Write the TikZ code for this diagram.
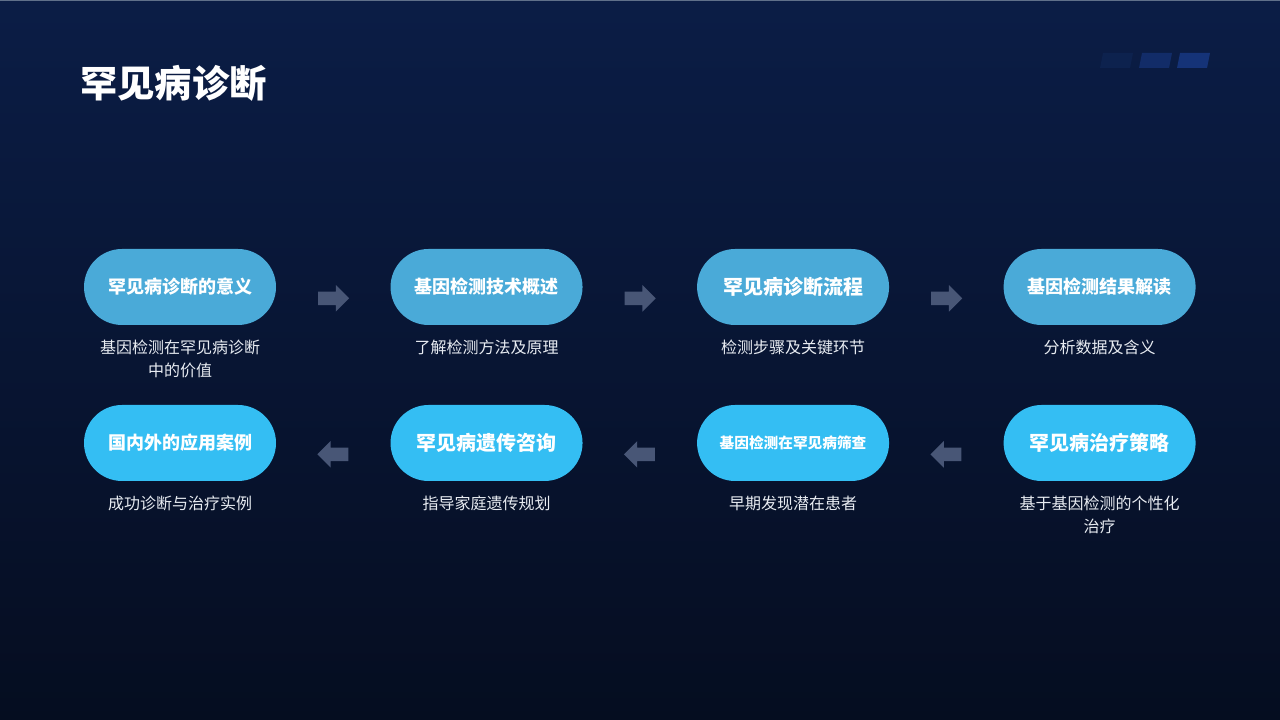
\documentclass[tikz,border=0pt]{standalone}
\usepackage{fontspec}
\setmainfont{Noto Sans CJK SC}
\usepackage{tikz}
\usetikzlibrary{calc}
\usetikzlibrary{positioning}
\usetikzlibrary{shapes.arrows}
\definecolor{bgtop}{RGB}{11,29,70}
\definecolor{bgbottom}{RGB}{5,13,32}
\definecolor{pillone}{RGB}{74,170,216}
\definecolor{pilltwo}{RGB}{52,190,243}
\definecolor{arrowgrey}{RGB}{72,86,118}
\definecolor{desctext}{RGB}{232,236,242}
\definecolor{topline}{RGB}{96,112,138}
\definecolor{tagdim}{RGB}{13,34,78}
\definecolor{tagmid}{RGB}{18,44,104}
\definecolor{tagbright}{RGB}{21,51,120}
\begin{document}
\begin{tikzpicture}[
    title node/.style={text=white, font=\fontsize{28}{30}\selectfont\bfseries, inner sep=0pt},
    pill node/.style={rounded corners=28.5pt, minimum width=144pt, minimum height=57pt,
        inner sep=0pt, text=white},
    top pill/.style={pill node, fill=pillone},
    bottom pill/.style={pill node, fill=pilltwo},
    desc node/.style={text=desctext, font=\fontsize{12}{17.25}\selectfont, align=center,
        inner sep=0pt},
    flow arrow/.style={single arrow, fill=arrowgrey, minimum height=23.25pt,
        single arrow head extend=4.9pt, single arrow tip angle=90, inner sep=0pt, xshift=-2.25pt},
    back arrow/.style={flow arrow, shape border rotate=180, xshift=4.5pt},
    node distance=85.5pt]
    \useasboundingbox (0,0) rectangle (960pt,540pt);
    \shade[top color=bgtop, bottom color=bgbottom] (0,0) rectangle (960pt,540pt);
    \fill[topline] (0,539.3pt) rectangle (960pt,540pt);

    % corner tags
    \fill[tagdim] (825pt,489pt) -- (847.5pt,489pt) -- (849.75pt,500.25pt) -- (827.25pt,500.25pt) -- cycle;
    \fill[tagmid] (854.25pt,489pt) -- (876.75pt,489pt) -- (879pt,500.25pt) -- (856.5pt,500.25pt) -- cycle;
    \fill[tagbright] (882.75pt,489pt) -- (905.25pt,489pt) -- (907.5pt,500.25pt) -- (885pt,500.25pt) -- cycle;

    \node[title node, anchor=west] (title) at (60pt,477.75pt) {罕见病诊断};

    % first row
    \node[top pill, font=\fontsize{13.5}{15}\selectfont\bfseries] (meaning) at (135pt,324.75pt) {罕见病诊断的意义};
    \node[top pill, font=\fontsize{13.5}{15}\selectfont\bfseries] (overview) [right=of meaning] {基因检测技术概述};
    \node[top pill, font=\fontsize{15}{17}\selectfont\bfseries] (process) [right=of overview] {罕见病诊断流程};
    \node[top pill, font=\fontsize{13.5}{15}\selectfont\bfseries] (reading) [right=of process] {基因检测结果解读};

    % second row
    \node[bottom pill, font=\fontsize{13.5}{15}\selectfont\bfseries] (cases) at (135pt,207.75pt) {国内外的应用案例};
    \node[bottom pill, font=\fontsize{15}{17}\selectfont\bfseries] (counsel) [right=of cases] {罕见病遗传咨询};
    \node[bottom pill, font=\fontsize{11}{13}\selectfont\bfseries] (screen) [right=of counsel] {基因检测在罕见病筛查};
    \node[bottom pill, font=\fontsize{15}{17}\selectfont\bfseries] (therapy) [right=of screen] {罕见病治疗策略};

    % descriptions
    \node[desc node, anchor=north] (meaning-d) [below=10.5pt of meaning] {基因检测在罕见病诊断\\中的价值};
    \node[desc node, anchor=north] (overview-d) [below=10.5pt of overview] {了解检测方法及原理};
    \node[desc node, anchor=north] (process-d) [below=10.5pt of process] {检测步骤及关键环节};
    \node[desc node, anchor=north] (reading-d) [below=10.5pt of reading] {分析数据及含义};
    \node[desc node, anchor=north] (cases-d) [below=10.5pt of cases] {成功诊断与治疗实例};
    \node[desc node, anchor=north] (counsel-d) [below=10.5pt of counsel] {指导家庭遗传规划};
    \node[desc node, anchor=north] (screen-d) [below=10.5pt of screen] {早期发现潜在患者};
    \node[desc node, anchor=north] (therapy-d) [below=10.5pt of therapy] {基于基因检测的个性化\\治疗};

    % arrows
    \node[flow arrow] (meaning-overview) at ($(meaning)!0.5!(overview)+(0,-8.5pt)$) {\rule{0pt}{9.75pt}};
    \node[flow arrow] (overview-process) at ($(overview)!0.5!(process)+(0,-8.5pt)$) {\rule{0pt}{9.75pt}};
    \node[flow arrow] (process-reading) at ($(process)!0.5!(reading)+(0,-8.5pt)$) {\rule{0pt}{9.75pt}};
    \node[back arrow] (counsel-cases) at ($(cases)!0.5!(counsel)+(0,-8.5pt)$) {\rule{0pt}{9.75pt}};
    \node[back arrow] (screen-counsel) at ($(counsel)!0.5!(screen)+(0,-8.5pt)$) {\rule{0pt}{9.75pt}};
    \node[back arrow] (therapy-screen) at ($(screen)!0.5!(therapy)+(0,-8.5pt)$) {\rule{0pt}{9.75pt}};
\end{tikzpicture}
\end{document}
